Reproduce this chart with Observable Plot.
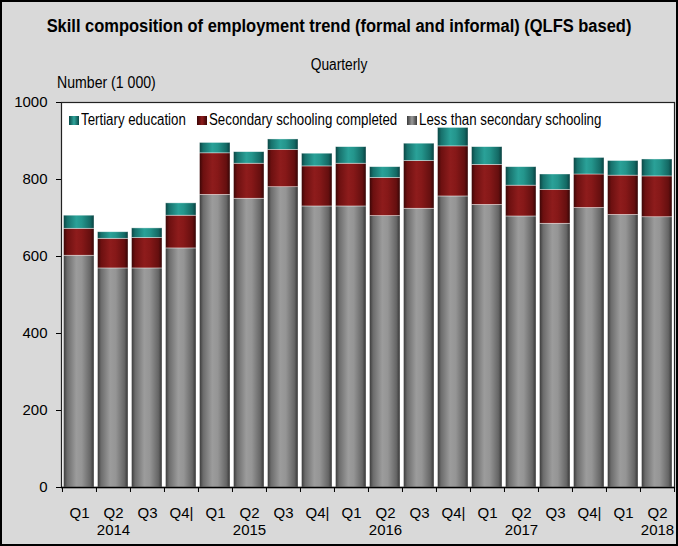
<!DOCTYPE html>
<html><head><meta charset="utf-8">
<script src="https://cdn.jsdelivr.net/npm/d3@7"></script>
<script src="https://cdn.jsdelivr.net/npm/@observablehq/plot@0.6"></script>
<style>
body{margin:0;background:#fff}
#frame{position:relative;width:678px;height:546px;background:#d9d9d9;overflow:hidden;font-family:"Liberation Sans",Arial,sans-serif;color:#000}
#border{position:absolute;left:0;top:0;width:678px;height:546px;box-sizing:border-box;border:2px solid #000;pointer-events:none;z-index:5}
.t{position:absolute;white-space:nowrap;z-index:3}
#title{left:0;width:678px;top:15px;text-align:center;font-weight:bold;font-size:18px;line-height:22px;transform:scaleX(0.915);transform-origin:339px 0}
#subtitle{left:0;width:678px;top:56px;text-align:center;font-size:16px;line-height:18px;transform:scaleX(0.86);transform-origin:339px 0}
#unit{left:57px;top:74px;font-size:17px;line-height:18px;transform:scaleX(0.83);transform-origin:0 0}
.lt{font-size:16px;line-height:18px;top:111px;transform:scaleX(0.83);transform-origin:0 0}
.sw{position:absolute;width:10px;height:9px;top:116px;z-index:3}
#chart{position:absolute;left:0;top:0;z-index:1}
</style></head>
<body>
<div id="frame">
  <div id="chart"></div>
  <div id="title" class="t"></div>
  <div id="subtitle" class="t"></div>
  <div id="unit" class="t"></div>
  <div id="legend"></div>
  <div id="border"></div>
</div>
<script>
// ---- data ----
const periods = ["2014 Q1","2014 Q2","2014 Q3","2014 Q4","2015 Q1","2015 Q2","2015 Q3","2015 Q4","2016 Q1","2016 Q2","2016 Q3","2016 Q4","2017 Q1","2017 Q2","2017 Q3","2017 Q4","2018 Q1","2018 Q2"];
const tickLabels = ["Q1","Q2\n2014","Q3","Q4|","Q1","Q2\n2015","Q3","Q4|","Q1","Q2\n2016","Q3","Q4|","Q1","Q2\n2017","Q3","Q4|","Q1","Q2\n2018"];
const seriesNames = ["Less than secondary schooling","Secondary schooling completed","Tertiary education"];
const lessThanSecondary = [602,569,569,621,760,750,780,730,730,705,724,756,734,704,685,726,708,702];
const secondaryCompleted = [70,77,79,85,108,91,97,104,111,99,124,130,104,80,88,87,102,106];
const tertiary = [34,17,25,32,27,30,27,33,43,28,45,48,46,48,40,43,38,44];
const yTicks = [0,200,400,600,800,1000];
const titleText = "Skill composition of employment trend (formal and informal) (QLFS based)";
const subtitleText = "Quarterly";
const unitText = "Number (1 000)";
const legendOrder = ["Tertiary education","Secondary schooling completed","Less than secondary schooling"];

// ---- styles / layout ----
const legendSwatchX = [69, 197, 407];
const gradIds = {"Less than secondary schooling":"gGray","Secondary schooling completed":"gRed","Tertiary education":"gTeal"};
const cssGrad = {
  gGray:"linear-gradient(90deg,#3a3a3a,#9a9a9a 50%,#3a3a3a)",
  gRed:"linear-gradient(90deg,#3a0606,#8e1c1c 50%,#3a0606)",
  gTeal:"linear-gradient(90deg,#0b4a48,#2fa59c 50%,#0b4a48)"
};

const table = periods.flatMap((p, i) => [
  {period: p, series: seriesNames[0], value: lessThanSecondary[i]},
  {period: p, series: seriesNames[1], value: secondaryCompleted[i]},
  {period: p, series: seriesNames[2], value: tertiary[i]}
]);

const W = 678, H = 546, mL = 61, mR = 4, mT = 102, mB = 59;
const bw = (W - mL - mR) / periods.length;

const svg = Plot.plot({
  width: W, height: H,
  marginLeft: mL, marginRight: mR, marginTop: mT, marginBottom: mB,
  style: {background: "transparent", fontFamily: '"Liberation Sans",Arial,sans-serif', fontSize: "15px", color: "#000", overflow: "visible"},
  x: {domain: periods, padding: 0, label: null},
  y: {domain: [0, 1000], label: null},
  color: {domain: seriesNames, range: seriesNames.map(s => `url(#${gradIds[s]})`)},
  marks: [
    Plot.frame({fill: "white", stroke: "none"}),
    Plot.barY(table, {x: "period", y: "value", fill: "series", insetLeft: 1.5, insetRight: 2, stroke: "#ffffff", strokeOpacity: 0.55, strokeWidth: 0.7}),
    Plot.frame({stroke: "#222", strokeWidth: 1.2}),
    Plot.ruleY([0], {stroke: "#000", strokeWidth: 1.5}),
    Plot.ruleX(periods, {x: d => d, dx: -bw / 2, y1: 0, y2: -13, stroke: "#000"}),
    Plot.ruleX(periods.slice(-1), {x: d => d, dx: bw / 2, y1: 0, y2: -13, stroke: "#000"}),
    Plot.axisY({ticks: yTicks, tickSize: 5, tickPadding: 9, tickFormat: d => String(d), fontSize: 15}),
    Plot.axisX({tickSize: 0, tickPadding: 18, lineHeight: 1.15, fontSize: 15, tickFormat: d => tickLabels[periods.indexOf(d)]})
  ]
});

const ns = "http://www.w3.org/2000/svg";
const defs = document.createElementNS(ns, "defs");
defs.innerHTML = `
<linearGradient id="gGray" x1="0" x2="1" y1="0" y2="0">
 <stop offset="0" stop-color="#3a3a3a"/><stop offset="0.12" stop-color="#6c6c6c"/><stop offset="0.42" stop-color="#9c9c9c"/><stop offset="0.6" stop-color="#959595"/><stop offset="0.88" stop-color="#666"/><stop offset="1" stop-color="#353535"/>
</linearGradient>
<linearGradient id="gRed" x1="0" x2="1" y1="0" y2="0">
 <stop offset="0" stop-color="#3a0606"/><stop offset="0.12" stop-color="#6c1010"/><stop offset="0.42" stop-color="#8e1c1c"/><stop offset="0.6" stop-color="#861818"/><stop offset="0.88" stop-color="#650f0f"/><stop offset="1" stop-color="#340505"/>
</linearGradient>
<linearGradient id="gTeal" x1="0" x2="1" y1="0" y2="0">
 <stop offset="0" stop-color="#0a4442"/><stop offset="0.12" stop-color="#17706b"/><stop offset="0.42" stop-color="#2aa198"/><stop offset="0.6" stop-color="#24958c"/><stop offset="0.88" stop-color="#146964"/><stop offset="1" stop-color="#094040"/>
</linearGradient>`;
svg.insertBefore(defs, svg.firstChild);
document.getElementById("chart").appendChild(svg);

document.getElementById("title").textContent = titleText;
document.getElementById("subtitle").textContent = subtitleText;
document.getElementById("unit").textContent = unitText;
const leg = document.getElementById("legend");
legendOrder.forEach((s, i) => {
  const sw = document.createElement("div"); sw.className = "sw";
  sw.style.left = legendSwatchX[i] + "px"; sw.style.background = cssGrad[gradIds[s]];
  const t = document.createElement("div"); t.className = "t lt";
  t.style.left = (legendSwatchX[i] + 12) + "px"; t.textContent = s;
  leg.appendChild(sw); leg.appendChild(t);
});
</script>
</body></html>
